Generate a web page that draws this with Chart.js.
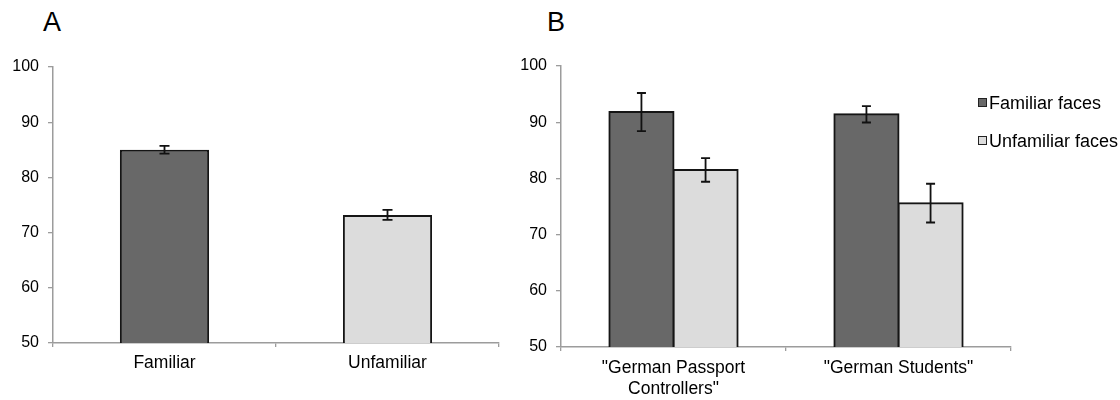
<!DOCTYPE html>
<html>
<head>
<meta charset="utf-8">
<script src="https://cdn.jsdelivr.net/npm/chart.js@4/dist/chart.umd.min.js"></script>
<style>
  body { margin: 0; background: #fff; font-family: "Liberation Sans", Arial, sans-serif; }
  #wrap { position: relative; width: 1120px; height: 400px; overflow: hidden; }
  .box { position: absolute; top: 0; height: 400px; }
  .panel { position: absolute; top: 9px; font-size: 27px; line-height: 27px; color: #000; }
  .leg { position: absolute; font-size: 18px; line-height: 18px; color: #000; white-space: nowrap; }
  .leg i { display: inline-block; width: 7px; height: 7px; border: 1px solid #222; margin-right: 2px; vertical-align: 2px; }
</style>
</head>
<body>
<div id="wrap">
  <div class="panel" style="left:43px">A</div>
  <div class="panel" style="left:547px">B</div>
  <div class="box" style="left:0;width:500px"><canvas id="chart_a"></canvas></div>
  <div class="box" style="left:500px;width:620px"><canvas id="chart_b"></canvas></div>
  <div id="legend_b"></div>
</div>
<script>
// panel A
let catsA = ['Familiar', 'Unfamiliar'];
let valsA = [85.0, 73.2];
let errsA = [0.7, 0.9];

// panel B
let catsB = [['"German Passport', 'Controllers"'], '"German Students"'];
let seriesB = ['Familiar faces', 'Unfamiliar faces'];
let familiarB = [91.8, 91.4];
let familiarErrB = [3.4, 1.45];
let unfamiliarB = [81.5, 75.6];
let unfamiliarErrB = [2.1, 3.45];

let yTicks = [50, 60, 70, 80, 90, 100];

let dark = '#686868';
let light = '#dcdcdc';
let axisGrey = '#9c9c9c';
let fontFam = '"Liberation Sans", Arial, sans-serif';

Chart.defaults.font.family = fontFam;
Chart.defaults.color = '#000';

// error bars drawn from each bar element and the y scale
let errorBars = {
    id: 'errorBars',
    afterDatasetsDraw(chart, args, opts) {
        let ctx = chart.ctx;
        let y = chart.scales.y;
        chart.data.datasets.forEach((ds, i) => {
            let meta = chart.getDatasetMeta(i);
            meta.data.forEach((bar, j) => {
                let v = ds.data[j], e = ds.errors[j];
                let top = y.getPixelForValue(v + e);
                let bot = y.getPixelForValue(v - e);
                let w = opts.cap || 5;
                ctx.save();
                ctx.strokeStyle = '#111';
                ctx.lineWidth = 1.8;
                ctx.beginPath();
                ctx.moveTo(bar.x, top); ctx.lineTo(bar.x, bot);
                ctx.moveTo(bar.x - w, top); ctx.lineTo(bar.x + w, top);
                ctx.moveTo(bar.x - w, bot); ctx.lineTo(bar.x + w, bot);
                ctx.stroke();
                ctx.restore();
            });
        });
    }
};

function yScale(width) {
    return {
        min: 50,
        max: 100,
        afterBuildTicks: s => { s.ticks = yTicks.map(v => ({value: v})); },
        afterFit: s => { s.width = width; },
        ticks: { font: {size: 16}, padding: 9, color: '#000' },
        grid: { drawOnChartArea: false, drawTicks: true, tickLength: 5, color: axisGrey, lineWidth: 1.3 },
        border: { color: axisGrey, width: 1.5 }
    };
}

function xScale(height, pad, lh) {
    return {
        afterFit: s => { s.height = height; },
        ticks: { font: {size: 17.5, lineHeight: lh}, padding: pad, color: '#000', maxRotation: 0 },
        grid: { drawOnChartArea: false, drawTicks: true, tickLength: 4, color: axisGrey, lineWidth: 1.3 },
        border: { color: axisGrey, width: 1.5 }
    };
}

let chartA = new Chart(document.getElementById('chart_a'), {
    type: 'bar',
    data: {
        labels: catsA,
        datasets: [
            {
                data: valsA,
                errors: errsA,
                backgroundColor: [dark, light],
                borderColor: '#151515',
                borderWidth: 2,
                borderSkipped: false,
                categoryPercentage: 0.4,
                barPercentage: 1.0
            }
        ]
    },
    options: {
        responsive: true,
        maintainAspectRatio: false,
        animation: false,
        layout: { padding: { top: 67, right: 1, left: 0, bottom: 0 } },
        plugins: { legend: { display: false }, tooltip: { enabled: false }, errorBars: { cap: 5 } },
        scales: { x: xScale(57, 6, 1.2), y: yScale(53) }
    },
    plugins: [errorBars]
});

let chartB = new Chart(document.getElementById('chart_b'), {
    type: 'bar',
    data: {
        labels: catsB,
        datasets: [
            {
                label: seriesB[0],
                data: familiarB,
                errors: familiarErrB,
                backgroundColor: dark,
                borderColor: '#151515',
                borderWidth: 2,
                borderSkipped: false,
                inflateAmount: 1,
                categoryPercentage: 0.57,
                barPercentage: 1.0
            },
            {
                label: seriesB[1],
                data: unfamiliarB,
                errors: unfamiliarErrB,
                backgroundColor: light,
                borderColor: '#151515',
                borderWidth: 2,
                borderSkipped: false,
                inflateAmount: 1,
                categoryPercentage: 0.57,
                barPercentage: 1.0
            }
        ]
    },
    options: {
        responsive: true,
        maintainAspectRatio: false,
        animation: false,
        layout: { padding: { top: 66, right: 109, left: 0, bottom: 0 } },
        plugins: { legend: { display: false }, tooltip: { enabled: false }, errorBars: { cap: 4.5 } },
        scales: { x: xScale(53, 7, 1.2), y: yScale(61) }
    },
    plugins: [errorBars]
});

// html legend for panel B
let legTops = [94, 132];
let leg = document.getElementById('legend_b');
chartB.data.datasets.forEach((ds, i) => {
    let d = document.createElement('div');
    d.className = 'leg';
    d.style.left = '978px';
    d.style.top = legTops[i] + 'px';
    d.innerHTML = '<i style="background:' + ds.backgroundColor + '"></i>' + ds.label;
    leg.appendChild(d);
});
</script>
</body>
</html>
